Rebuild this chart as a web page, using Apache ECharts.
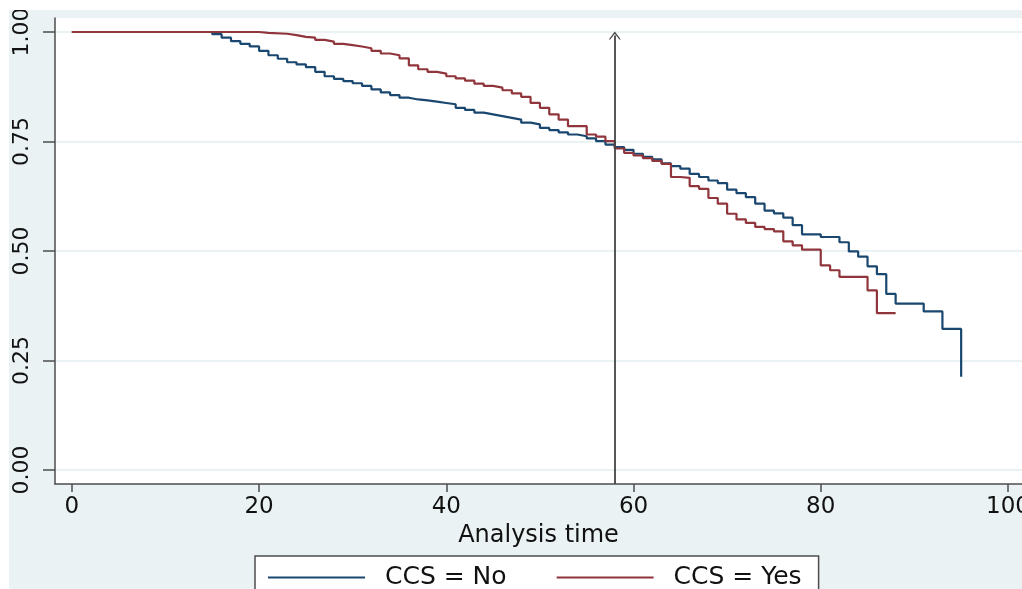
<!DOCTYPE html>
<html>
<head>
<meta charset="utf-8">
<title>KM CCS</title>
<script src="https://cdn.jsdelivr.net/npm/echarts@6/dist/echarts.min.js"></script>
<style>
  html, body { margin: 0; padding: 0; background: #fff; }
  #chart { position: absolute; left: 9px; top: 10px; width: 1013px; height: 579px; background: #eaf2f3; }
</style>
</head>
<body>
<div id="chart"></div>
<script>
// 数据 CCS = No
const noTime = [0, 15, 16, 17, 18, 19, 20, 21, 22, 23, 24, 25, 26, 27, 28, 29, 30, 31, 32, 33, 34, 35, 36, 37, 38, 39,
  40, 41, 42, 43, 44, 45, 46, 47, 48, 49, 50, 51, 52, 53, 54, 55, 56, 57, 58, 59, 60, 61, 62, 63, 64, 65, 66, 67, 68, 69,
  70, 71, 72, 73, 74, 75, 76, 77, 78, 80, 82, 83, 84, 85, 86, 87, 88, 91, 93, 95]
const noSurv = [1, 0.995, 0.987, 0.979, 0.973, 0.967, 0.957, 0.947, 0.939, 0.931, 0.926, 0.920, 0.909, 0.899, 0.893, 0.888,
  0.883, 0.877, 0.869, 0.862, 0.856, 0.850, 0.846, 0.844, 0.841, 0.838, 0.835, 0.827, 0.822, 0.816, 0.812, 0.808, 0.804,
  0.800, 0.793, 0.789, 0.781, 0.776, 0.771, 0.766, 0.762, 0.757, 0.751, 0.743, 0.737, 0.731, 0.722, 0.715, 0.709, 0.700,
  0.694, 0.688, 0.676, 0.669, 0.661, 0.655, 0.640, 0.632, 0.623, 0.608, 0.592, 0.586, 0.576, 0.559, 0.538, 0.532, 0.520,
  0.499, 0.487, 0.465, 0.447, 0.402, 0.380, 0.362, 0.322, 0.213]

// 数据 CCS = Yes
const yesTime = [0, 20, 21, 23, 24, 25, 26, 27, 28, 29, 30, 31, 32, 33, 34, 35, 36, 37, 38, 39, 40, 41, 42, 43, 44, 45,
  46, 47, 48, 49, 50, 51, 52, 53, 55, 56, 57, 58, 59, 60, 61, 62, 63, 64, 65, 66, 67, 68, 69, 70, 71, 72, 73, 74, 75, 76,
  77, 78, 80, 81, 82, 85, 86, 88]
const yesSurv = [1, 0.998, 0.996, 0.993, 0.989, 0.987, 0.982, 0.978, 0.973, 0.970, 0.967, 0.963, 0.957, 0.951, 0.947,
  0.940, 0.924, 0.915, 0.909, 0.905, 0.899, 0.894, 0.889, 0.882, 0.877, 0.873, 0.867, 0.860, 0.852, 0.838, 0.827, 0.812,
  0.800, 0.785, 0.766, 0.761, 0.751, 0.734, 0.724, 0.718, 0.712, 0.706, 0.699, 0.669, 0.667, 0.648, 0.642, 0.621, 0.608,
  0.585, 0.572, 0.564, 0.555, 0.550, 0.545, 0.522, 0.513, 0.503, 0.467, 0.456, 0.441, 0.410, 0.358, 0.358]

// 刻度
const xTicks = [0, 20, 40, 60, 80, 100]
const yTicks = [0, 0.25, 0.5, 0.75, 1]

// 参考线
const refTime = 58
const refTop = 0.992

const xMin = -1.8
const xMax = 101.5
const yMin = -0.032
const yMax = 1.032

const myChart = echarts.init(document.querySelector('#chart'))

const pairs = (xs, ys) => xs.map((x, i) => [x, ys[i]])

const option = {
  animation: false,
  textStyle: { fontFamily: 'DejaVu Sans' },
  grid: {
    left: 46,
    top: 8,
    right: 0,
    bottom: 105,
    containLabel: false,
    outerBoundsMode: 'none',
    show: true,
    backgroundColor: '#fff',
    borderWidth: 0,
  },
  xAxis: {
    type: 'value',
    min: xMin,
    max: xMax,
    name: 'Analysis time',
    nameLocation: 'middle',
    nameGap: 33,
    nameTextStyle: { fontSize: 24, color: '#111' },
    axisLine: { onZero: false, lineStyle: { color: '#4d4d4d', width: 1.5 } },
    axisTick: { customValues: xTicks, length: 8, lineStyle: { color: '#4d4d4d', width: 1.5 } },
    axisLabel: { customValues: xTicks, fontSize: 23, color: '#111', margin: 12, hideOverlap: false },
    splitLine: { show: false },
  },
  yAxis: {
    type: 'value',
    min: yMin,
    max: yMax,
    axisLine: { show: true, onZero: false, lineStyle: { color: '#4d4d4d', width: 1.5 } },
    axisTick: { show: true, customValues: yTicks, length: 12, lineStyle: { color: '#4d4d4d', width: 1.5 } },
    axisLabel: {
      customValues: yTicks,
      fontSize: 22,
      color: '#111',
      rotate: 90,
      margin: 22,
      formatter: v => v.toFixed(2),
    },
    splitLine: { show: true, lineStyle: { color: '#e3eef1', width: 1.5 } },
  },
  legend: {
    data: ['CCS = No', 'CCS = Yes'],
    left: 246,
    top: 546,
    orient: 'horizontal',
    icon: 'rect',
    itemWidth: 97,
    itemHeight: 2,
    itemGap: 50,
    padding: [9, 17, 12, 13],
    backgroundColor: '#fff',
    borderColor: '#4d4d4d',
    borderWidth: 1.5,
    borderRadius: 0,
    textStyle: { fontSize: 25, color: '#111', padding: [0, 0, 0, 15] },
  },
  series: [
    {
      name: 'CCS = No',
      type: 'line',
      step: 'end',
      symbol: 'none',
      data: pairs(noTime, noSurv),
      lineStyle: { color: '#1a476f', width: 2.2 },
      itemStyle: { color: '#1a476f' },
    },
    {
      name: 'CCS = Yes',
      type: 'line',
      step: 'end',
      symbol: 'none',
      data: pairs(yesTime, yesSurv),
      lineStyle: { color: '#90353b', width: 2.2 },
      itemStyle: { color: '#90353b' },
    },
    {
      name: 'ref',
      type: 'line',
      data: [],
      markLine: {
        silent: true,
        symbol: ['none', 'path://M0,8 L6,0 L12,8 L10.6,8 L6,2.2 L1.4,8 Z'],
        symbolSize: [12, 8],
        label: { show: false },
        lineStyle: { color: '#444', width: 1.8, type: 'solid' },
        data: [[{ coord: [refTime, yMin] }, { coord: [refTime, refTop] }]],
      },
    },
  ],
}

myChart.setOption(option)
</script>
</body>
</html>
